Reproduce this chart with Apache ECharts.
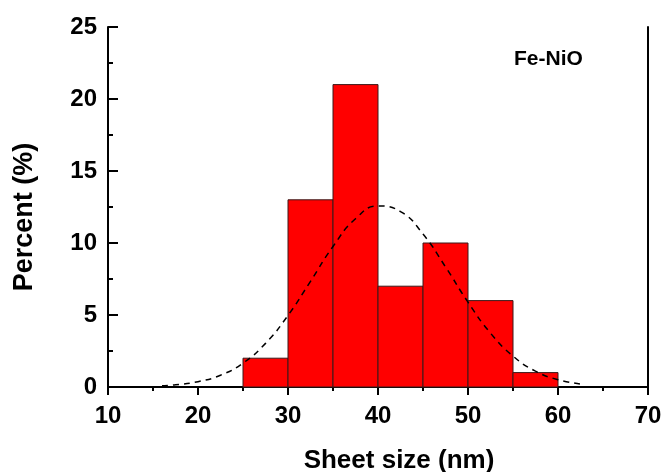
<!DOCTYPE html>
<html>
<head>
<meta charset="utf-8">
<script src="https://cdn.jsdelivr.net/npm/echarts@6/dist/echarts.min.js"></script>
<style>
  html, body { margin: 0; padding: 0; background: #fff; }
  #chart { width: 665px; height: 472px; }
</style>
</head>
<body>
<div id="chart"></div>
<script>
// Histogram bins (nm) and their share of sheets (%)
const binStart = [25, 30, 35, 40, 45, 50, 55];
const binEnd   = [30, 35, 40, 45, 50, 55, 60];
const percent  = [2, 13, 21, 7, 10, 6, 1];

// Fitted distribution curve, sampled along the size axis
const curveX = [16, 17.5, 20, 22.5, 25, 27.5, 30, 32.5, 35, 37.5, 40, 42.5, 45, 47.5, 50, 52.5, 55, 57.5, 60, 62.5];
const curveY = [0.08, 0.15, 0.37, 0.82, 1.66, 3.03, 4.97, 7.34, 9.76, 11.68, 12.57, 12.18, 10.62, 8.34, 5.89, 3.74, 2.15, 1.10, 0.51, 0.21];

const sampleLabel = 'Fe-NiO';

const FONT = '"Liberation Sans", Arial, sans-serif';

const barData = binStart.map((s, i) => [s, binEnd[i], percent[i]]);
const curveData = curveX.map((x, i) => [x, curveY[i]]);

const chart = echarts.init(document.getElementById('chart'), null, { renderer: 'canvas' });

const axisLine = { show: true, lineStyle: { color: '#000', width: 2 } };

chart.setOption({
  animation: false,
  backgroundColor: '#fff',
  grid: { left: 108, right: 17, top: 27, bottom: 85, containLabel: false, outerBoundsMode: 'none' },
  xAxis: [{
    type: 'value', min: 10, max: 70, interval: 10,
    axisLine: axisLine,
    axisTick: { show: true, inside: false, length: 8, lineStyle: { color: '#000', width: 2 } },
    minorTick: { show: true, splitNumber: 2, length: 4, lineStyle: { color: '#000', width: 2 } },
    splitLine: { show: false },
    axisLabel: { fontFamily: FONT, fontWeight: 'bold', fontSize: 24, color: '#000', margin: 17 },
    name: 'Sheet size (nm)',
    nameLocation: 'middle',
    nameGap: 61,
    nameTextStyle: { fontFamily: FONT, fontWeight: 'bold', fontSize: 26, color: '#000', padding: [0, 0, 0, 42] }
  }, {
    type: 'value', min: 10, max: 70, position: 'top',
    axisLine: axisLine, axisTick: { show: false }, axisLabel: { show: false }, splitLine: { show: false }
  }],
  yAxis: [{
    type: 'value', min: 0, max: 25, interval: 5,
    axisLine: axisLine,
    axisTick: { show: true, inside: true, length: 10, lineStyle: { color: '#000', width: 2 } },
    minorTick: { show: true, splitNumber: 2, length: 5, lineStyle: { color: '#000', width: 2 } },
    splitLine: { show: false },
    axisLabel: { fontFamily: FONT, fontWeight: 'bold', fontSize: 24, color: '#000', margin: 11 },
    name: 'Percent (%)',
    nameLocation: 'middle',
    nameGap: 70,
    nameTextStyle: { fontFamily: FONT, fontWeight: 'bold', fontSize: 27, color: '#000', padding: [0, 20, 0, 0] }
  }, {
    type: 'value', min: 0, max: 25, position: 'right',
    axisLine: axisLine, axisTick: { show: false }, axisLabel: { show: false }, splitLine: { show: false }
  }],
  series: [{
    type: 'custom',
    data: barData,
    encode: { x: [0, 1], y: 2 },
    renderItem: function (params, api) {
      const p0 = api.coord([api.value(0), api.value(2)]);
      const p1 = api.coord([api.value(1), 0]);
      return {
        type: 'rect',
        shape: { x: p0[0], y: p0[1], width: p1[0] - p0[0], height: p1[1] - p0[1] },
        style: { fill: '#ff0000', stroke: '#3a1a1a', lineWidth: 1 }
      };
    },
    z: 2
  }, {
    type: 'line',
    data: curveData,
    smooth: true,
    showSymbol: false,
    lineStyle: { color: '#000', width: 1.5, type: [6, 5] },
    z: 3
  }],
  graphic: [{
    type: 'text',
    left: 514, top: 49,
    style: { text: sampleLabel, font: 'bold 21px ' + FONT, fill: '#000' }
  }]
});
</script>
</body>
</html>
